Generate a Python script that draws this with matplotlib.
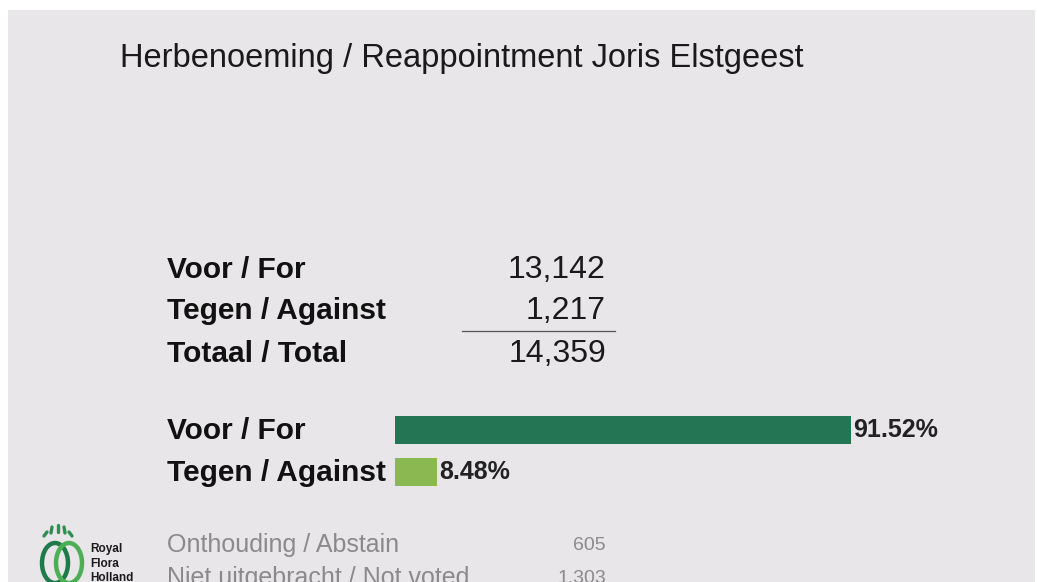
import matplotlib.pyplot as plt
from matplotlib.patches import Rectangle, Ellipse

# Data
title = "Herbenoeming / Reappointment Joris Elstgeest"
count_labels = ["Voor / For", "Tegen / Against", "Totaal / Total"]
count_values = [13142, 1217, 14359]
bar_labels = ["Voor / For", "Tegen / Against"]
bar_pcts = [91.52, 8.48]
bar_colors = ["#247553", "#8cb852"]
other_labels = ["Onthouding / Abstain", "Niet uitgebracht / Not voted"]
other_values = [605, 1303]

plt.rcParams['font.family'] = ['Liberation Sans', 'DejaVu Sans']

fig = plt.figure(figsize=(10.37, 5.82), dpi=100)
fig.patch.set_facecolor("white")

# background axes in pixel coordinates
bg = fig.add_axes([0, 0, 1, 1])
bg.set_xlim(0, 1037)
bg.set_ylim(582, 0)
bg.axis("off")
bg.add_patch(Rectangle((8, 10), 1027, 580, facecolor="#e8e6e9", edgecolor="none"))

bg.text(120, 59, title, fontsize=23.5, color="#1a1a1a", va="center", ha="left")

# counts table
rows_y = [270, 311, 354]
for lab, val, y in zip(count_labels, count_values, rows_y):
    bg.text(167, y, lab, fontsize=21.5, fontweight="bold", color="#111111", va="center")
    bg.text(606, y, f"{val:,}", fontsize=23, color="#1a1a1a", va="center", ha="right")
bg.plot([462, 615], [331, 331], color="#555555", lw=0.9)

# bar labels
for lab, y in zip(bar_labels, [431, 473]):
    bg.text(167, y, lab, fontsize=21.5, fontweight="bold", color="#111111", va="center")

# other votes
for lab, val, y in zip(other_labels, other_values, [545, 578]):
    bg.text(167, y, lab, fontsize=18, color="#8a8a8a", va="center")
    bg.text(606, y, f"{val:,}", fontsize=14, color="#8a8a8a", va="center", ha="right")

# logo
bg.add_patch(Ellipse((55, 563), 26, 40, fill=False, edgecolor="#1f7a4a", lw=3.2))
bg.add_patch(Ellipse((69, 563), 26, 40, fill=False, edgecolor="#4cae55", lw=3.2))
for x0, x1, y0, y1 in [(44, 47, 536, 532), (51, 52, 533, 527), (58, 58, 532, 525),
                       (65, 64, 533, 527), (72, 69, 536, 532)]:
    bg.plot([x0, x1], [y0, y1], color="#2e8f4f", lw=2.4, solid_capstyle="round")
bg.text(90, 549, "Royal", fontsize=8.5, fontweight="bold", color="#1a1a1a", va="center")
bg.text(90, 564, "Flora", fontsize=8.5, fontweight="bold", color="#1a1a1a", va="center")
bg.text(90, 578, "Holland", fontsize=8.5, fontweight="bold", color="#1a1a1a", va="center")

# percentage bars
ax = fig.add_axes([395 / 1037, 1 - 493 / 582, 498 / 1037, 84 / 582])
ax.set_xlim(0, 100)
ax.set_ylim(1.5, -0.5)
ax.axis("off")
ax.barh(range(len(bar_pcts)), bar_pcts, height=0.67, color=bar_colors)
for i, p in enumerate(bar_pcts):
    ax.text(p + 0.4, i, f"{p:.2f}%", fontsize=18, fontweight="bold", color="#222222",
            va="center", ha="left")

fig.savefig("out.png", dpi=100)
